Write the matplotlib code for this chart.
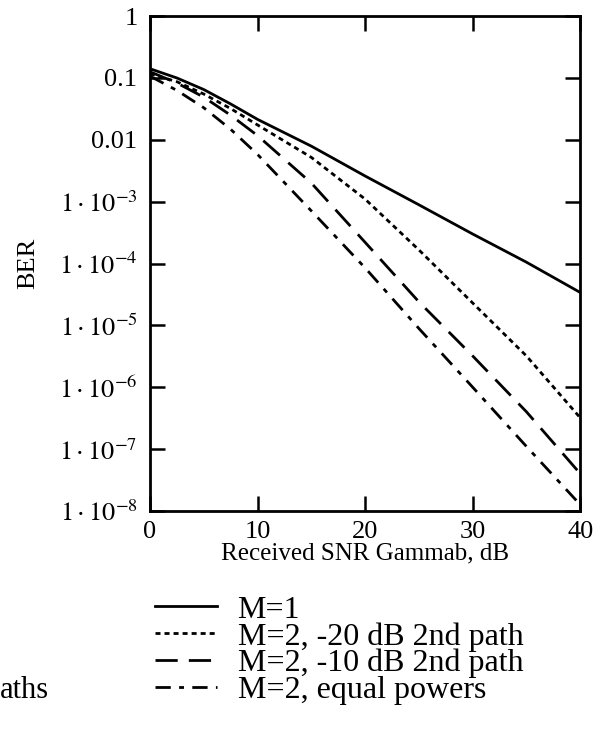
"""
BER vs received SNR for M=1 and M=2 path cases (Rake / multipath comparison).
"""

import matplotlib
matplotlib.use("Agg")
import matplotlib.pyplot as plt
from matplotlib.ticker import FixedLocator, FixedFormatter

plt.rcParams["font.family"] = ["Liberation Serif", "DejaVu Serif"]
plt.rcParams["mathtext.fontset"] = "stix"
plt.rcParams["lines.scale_dashes"] = False

# Data
snr_db = [0, 2.5, 5, 7.5, 10, 15, 20, 25, 30, 35, 40]

ber_m1 = [0.141, 0.1, 0.065, 0.038, 0.0214, 7.9e-3, 2.6e-3,
          8.9e-4, 3.0e-4, 1.05e-4, 3.4e-5]
ber_m2_20db = [0.117, 0.087, 0.055, 0.032, 0.0174, 5.2e-3, 1.1e-3,
               1.66e-4, 2.3e-5, 3.2e-6, 3.2e-7]
ber_m2_10db = [0.126, 0.083, 0.049, 0.025, 0.0117, 2.0e-3, 2.2e-4,
               2.4e-5, 3.2e-6, 4.0e-7, 4.0e-8]
ber_m2_equal = [0.107, 0.063, 0.033, 0.0148, 5.8e-3, 7.1e-4, 8.5e-5,
                8.9e-6, 1.0e-6, 1.1e-7, 1.26e-8]

labels = [
    "M=1",
    "M=2, -20 dB 2nd path",
    "M=2, -10 dB 2nd path",
    "M=2, equal powers"
]

y_ticks = [1, 0.1, 0.01, 1e-3, 1e-4, 1e-5, 1e-6, 1e-7, 1e-8]
y_tick_labels = ["1", "0.1", "0.01",
                 r"$1\cdot10^{-3}$", r"$1\cdot10^{-4}$", r"$1\cdot10^{-5}$",
                 r"$1\cdot10^{-6}$", r"$1\cdot10^{-7}$", r"$1\cdot10^{-8}$"]
x_ticks = [0, 10, 20, 30, 40]

# ----------------------------------------
# Figure
# ----------------------------------------

fig = plt.figure(figsize=(6.06, 7.33), dpi=100)
ax = fig.add_axes([0.2475, 0.303, 0.71, 0.675])

styles = [
    dict(linestyle="-"),
    dict(linestyle=(0, (3.6, 2.9))),
    dict(linestyle=(0, (16, 8))),
    dict(linestyle=(0, (11, 6, 3.5, 6))),
]
series = [ber_m1, ber_m2_20db, ber_m2_10db, ber_m2_equal]

for ber, st, lab in zip(series, styles, labels):
    ax.plot(snr_db, ber, color="black", linewidth=2.0, label=lab, **st)

ax.set_yscale("log")
ax.set_xlim(0, 40)
ax.set_ylim(1e-8, 1)

ax.yaxis.set_major_locator(FixedLocator(y_ticks))
ax.yaxis.set_major_formatter(FixedFormatter(y_tick_labels))
ax.yaxis.set_minor_locator(FixedLocator([]))
ax.set_xticks(x_ticks)

ax.tick_params(
    direction="in",
    length=11,
    width=1.8,
    top=True,
    right=True,
    labelsize=19,
    pad=9
)
ax.tick_params(axis="x", pad=7)

for spine in ax.spines.values():
    spine.set_linewidth(2.0)

ax.set_xlabel("Received SNR Gammab, dB", fontsize=18, labelpad=0)
ax.set_ylabel("BER", fontsize=19, labelpad=14)

leg = ax.legend(
    loc="upper left",
    bbox_to_anchor=(0.255, 0.188),
    bbox_transform=fig.transFigure,
    frameon=False,
    fontsize=23,
    handlelength=1.95,
    handletextpad=0.65,
    labelspacing=-0.08,
    borderpad=0,
    borderaxespad=0
)

fig.text(0.0, 0.048, "aths", fontsize=22, ha="left", va="baseline")

plt.savefig("out.png", dpi=100)
plt.close()
